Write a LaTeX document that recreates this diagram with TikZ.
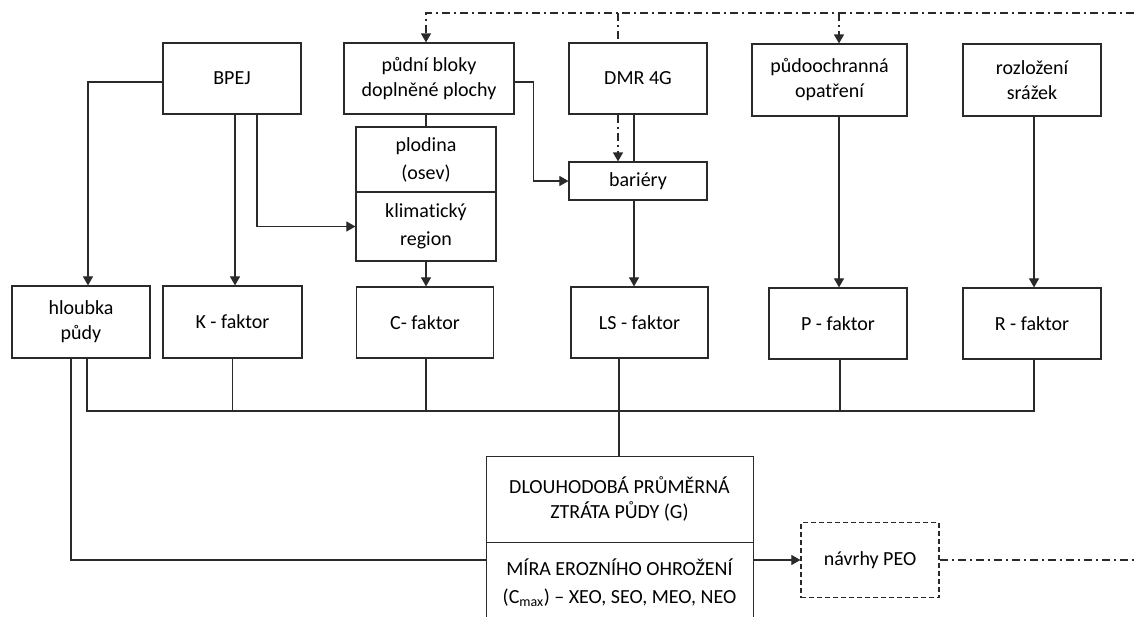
\documentclass[tikz,border=0pt]{standalone}
\usepackage{fontspec}
\setmainfont{Carlito}[Ligatures=NoCommon]
\usetikzlibrary{arrows.meta}
\definecolor{ink}{HTML}{2A2A2A}
\tikzset{
  box/.style={draw=ink, line width=1.2pt, rectangle, inner sep=0pt, align=center,
              font=\fontsize{20}{25}\selectfont, text=black},
  conn/.style={draw=ink, line width=1.1pt},
  tip/.style={-{Triangle[length=9pt,width=10pt]}},
  dashdot/.style={line width=1.3pt, dash pattern=on 8pt off 4pt on 2pt off 4pt},
}
\begin{document}
\begin{tikzpicture}[x=1pt,y=-1pt]
\useasboundingbox (0,0) rectangle (1134,617);
\fill[white] (0,0) rectangle (1134,617);
\clip (0,0) rectangle (1134,617);

% input layer
\node[box, minimum width=138pt, minimum height=71pt] (bpej) at (232,78.5) {BPEJ};
\node[box, minimum width=170pt, minimum height=71pt] (pb) at (429,78.5) {půdní bloky\\doplněné plochy};
\node[box, minimum width=138pt, minimum height=71pt] (dmr) at (638,78.5) {DMR 4G};
\node[box, minimum width=155pt, minimum height=72pt] (po) at (829.5,80) {půdoochranná\\opatření};
\node[box, minimum width=138pt, minimum height=72pt] (rs) at (1032,80) {rozložení\\srážek};

% intermediate boxes
\node[box, minimum width=140pt, minimum height=65pt, font=\fontsize{20}{28}\selectfont] (plod) at (426,159.5) {plodina\\(osev)};
\node[box, minimum width=140pt, minimum height=69pt, font=\fontsize{20}{28}\selectfont] (klim) at (426,226.5) {klimatický\\region};
\node[box, minimum width=138pt, minimum height=38pt] (bar) at (638,181) {bariéry};

% factors
\node[box, minimum width=138pt, minimum height=72pt] (hl) at (81,322) {hloubka\\půdy};
\node[box, minimum width=139pt, minimum height=72pt] (kf) at (232.5,322) {K - faktor};
\node[box, minimum width=137pt, minimum height=71pt] (cf) at (425,322.5) {C- faktor};
\node[box, minimum width=137pt, minimum height=71pt] (ls) at (639.5,322.5) {LS - faktor};
\node[box, minimum width=138pt, minimum height=71pt] (pf) at (838,323.5) {P - faktor};
\node[box, minimum width=138pt, minimum height=71pt] (rf) at (1032,323.5) {R - faktor};

% result
\node[box, line width=1pt, minimum width=267pt, minimum height=86pt] (gt) at (619.5,499) {DLOUHODOBÁ PRŮMĚRNÁ\\ZTRÁTA PŮDY (G)};
\node[box, line width=1pt, minimum width=267pt, minimum height=82pt, font=\fontsize{20}{28}\selectfont] (gb) at (619.5,583) {MÍRA EROZNÍHO OHROŽENÍ\\(C\textsubscript{max}) – XEO, SEO, MEO, NEO};
\node[box, dashed, dash pattern=on 5pt off 3pt, minimum width=138pt, minimum height=75pt] (nv) at (870,560) {návrhy PEO};

% helper coordinates
\coordinate (top) at (0,13);
\coordinate (topR) at (1134,13);
\coordinate (bus) at (0,411);
\coordinate (low) at (0,560);
\coordinate (edge) at (1134,560);

% feedback line along the top
\draw[conn, dashdot, tip] (topR) -| ([xshift=-3pt]pb.north);
\draw[conn, dashdot] ([xshift=-20pt]dmr.north |- top) -- ([xshift=-20pt]dmr.north);
\draw[conn, dashdot, tip] ([xshift=9.5pt]po.north |- top) -- ([xshift=9.5pt]po.north);

% BPEJ outputs
\draw[conn, tip] ([yshift=-3.5pt]bpej.west) -| ([xshift=7pt]hl.north);
\draw[conn, tip] ([xshift=3pt]bpej.south) -- ([xshift=3pt]bpej.south |- kf.north);
\draw[conn, tip] ([xshift=25pt]bpej.south) |- (klim.west);

% soil blocks
\draw[conn] ([xshift=-3pt]pb.south) -- ([xshift=-3pt]pb.south |- plod.north);
\draw[conn, tip] ([yshift=-3.5pt]pb.east) -- ++(19,0) |- (bar.west);

% terrain model and barriers
\draw[conn, dashdot, tip] ([xshift=-20pt]dmr.south) -- ([xshift=-20pt]bar.north);
\draw[conn] ([xshift=-4pt]dmr.south) -- ([xshift=-4pt]bar.north);
\draw[conn, tip] ([xshift=-4pt]bar.south) -- ([xshift=-4pt]bar.south |- ls.north);

% into factors
\draw[conn, tip] (klim.south) -- (klim.south |- cf.north);
\draw[conn, tip] ([xshift=9.5pt]po.south) -- ([xshift=9.5pt]po.south |- pf.north);
\draw[conn, tip] ([xshift=2pt]rs.south) -- ([xshift=2pt]rs.south |- rf.north);

% collecting bus
\draw[conn] ([xshift=6pt]hl.south) |- ([xshift=2pt]rf.south |- bus) -- ([xshift=2pt]rf.south);
\draw[conn] (kf.south) -- (kf.south |- bus);
\draw[conn] ([xshift=1pt]cf.south) -- ([xshift=1pt]cf.south |- bus);
\draw[conn] ([xshift=2pt]pf.south) -- ([xshift=2pt]pf.south |- bus);
\draw[conn] ([xshift=-20.5pt]ls.south) -- ([xshift=-20.5pt]ls.south |- gt.north);

% soil depth to erosion threat and proposals
\draw[conn] ([xshift=-10pt]hl.south) |- (gb.west |- low);
\draw[conn, tip] (gb.east |- low) -- (nv.west);
\draw[conn, dashdot] (nv.east) -- (edge);
\end{tikzpicture}
\end{document}
